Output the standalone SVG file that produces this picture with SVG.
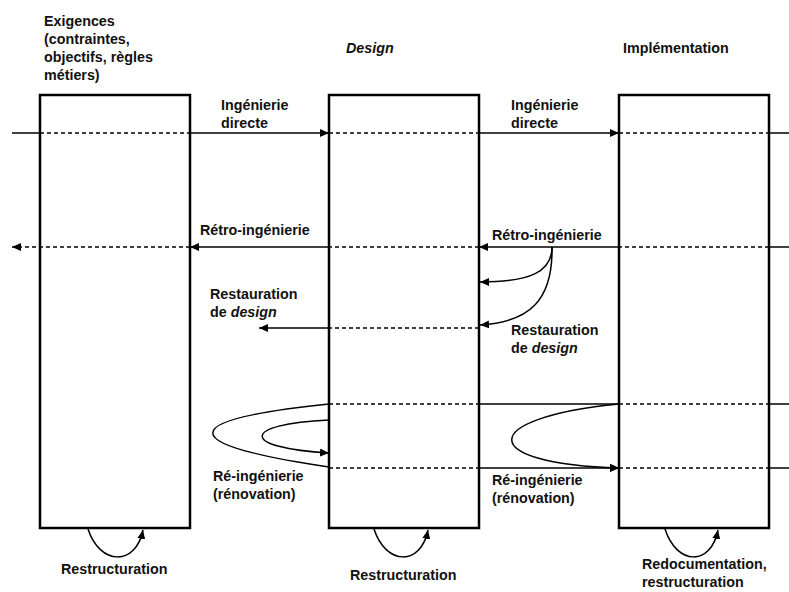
<svg xmlns="http://www.w3.org/2000/svg" width="789" height="592" viewBox="0 0 789 592">
<style>
text{font-family:"Liberation Sans",Arial,Helvetica,sans-serif;font-size:14.3px;font-weight:bold;fill:#111}
.it{font-style:italic}
.box{fill:none;stroke:#000;stroke-width:2.5}
.s{fill:none;stroke:#000;stroke-width:1.5}
.d{fill:none;stroke:#000;stroke-width:1.5;stroke-dasharray:4 3}
</style>
<defs>
<marker id="ah" viewBox="0 0 9 8" refX="9" refY="4" markerUnits="userSpaceOnUse" markerWidth="9" markerHeight="8" orient="auto">
<path d="M0,0 L9,4 L0,8 z" fill="#000"/>
</marker>
</defs>
<rect width="789" height="592" fill="#fff"/>

<g id="exigences">
<rect class="box" x="40" y="95" width="150" height="433"/>
<text x="44" y="26">Exigences</text>
<text x="44" y="44">(contraintes,</text>
<text x="44" y="62">objectifs, règles</text>
<text x="44" y="80">métiers)</text>
</g>
<g id="design">
<rect class="box" x="329" y="95" width="150" height="433"/>
<text x="346" y="53" class="it">Design</text>
</g>
<g id="implementation">
<rect class="box" x="619" y="95" width="150" height="433"/>
<text x="623" y="53">Implémentation</text>
</g>

<g id="connectors">
<line class="s" x1="12" y1="133" x2="40" y2="133"/>
<line class="d" x1="40" y1="133" x2="190" y2="133"/>
<line class="s" x1="190" y1="133" x2="329" y2="133" marker-end="url(#ah)"/>
<line class="d" x1="329" y1="133" x2="479" y2="133"/>
<line class="s" x1="479" y1="133" x2="619" y2="133" marker-end="url(#ah)"/>
<line class="d" x1="619" y1="133" x2="769" y2="133"/>
<line class="s" x1="769" y1="133" x2="789" y2="133"/>

<line class="s" x1="789" y1="247" x2="769" y2="247"/>
<line class="d" x1="769" y1="247" x2="619" y2="247"/>
<line class="s" x1="619" y1="247" x2="479" y2="247" marker-end="url(#ah)"/>
<line class="d" x1="479" y1="247" x2="329" y2="247"/>
<line class="s" x1="329" y1="247" x2="190" y2="247" marker-end="url(#ah)"/>
<line class="d" x1="190" y1="247" x2="12" y2="247" marker-end="url(#ah)"/>

<path class="s" d="M552,247 C552,272 530,282 480,282" marker-end="url(#ah)"/>
<path class="s" d="M552,247 C553,300 530,322 480,325" marker-end="url(#ah)"/>

<line class="d" x1="479" y1="328" x2="329" y2="328"/>
<line class="s" x1="329" y1="328" x2="259" y2="328" marker-end="url(#ah)"/>

<line class="d" x1="329" y1="404" x2="479" y2="404"/>
<line class="s" x1="479" y1="404" x2="619" y2="404"/>
<line class="d" x1="619" y1="404" x2="769" y2="404"/>
<line class="s" x1="769" y1="404" x2="789" y2="404"/>

<line class="d" x1="329" y1="468" x2="479" y2="468"/>
<line class="s" x1="479" y1="468" x2="619" y2="468" marker-end="url(#ah)"/>
<line class="d" x1="619" y1="468" x2="769" y2="468"/>
<line class="s" x1="769" y1="468" x2="789" y2="468"/>

<path class="s" d="M619,404 C476,418 476,464 619,468" marker-end="url(#ah)"/>
<path class="s" d="M329,404 C174,420 174,444 329,467"/>
<path class="s" d="M329,420 C240,424 240,448 329,453" marker-end="url(#ah)"/>

<path class="s" d="M88,529 C100,566 136,566 143,530" marker-end="url(#ah)"/>
<path class="s" d="M374,529 C386,566 421,566 428,530" marker-end="url(#ah)"/>
<path class="s" d="M665,529 C677,566 711,566 718,530" marker-end="url(#ah)"/>
</g>

<g id="labels">
<text x="221" y="110">Ingénierie</text>
<text x="221" y="128">directe</text>
<text x="511" y="110">Ingénierie</text>
<text x="511" y="128">directe</text>
<text x="200" y="235">Rétro-ingénierie</text>
<text x="492" y="240">Rétro-ingénierie</text>
<text x="210" y="299">Restauration</text>
<text x="210" y="317">de <tspan class="it">design</tspan></text>
<text x="511" y="335">Restauration</text>
<text x="511" y="353">de <tspan class="it">design</tspan></text>
<text x="213" y="481">Ré-ingénierie</text>
<text x="213" y="499">(rénovation)</text>
<text x="492" y="485">Ré-ingénierie</text>
<text x="492" y="503">(rénovation)</text>
<text x="61" y="574">Restructuration</text>
<text x="350" y="580">Restructuration</text>
<text x="642" y="569">Redocumentation,</text>
<text x="642" y="587">restructuration</text>
</g>
</svg>
